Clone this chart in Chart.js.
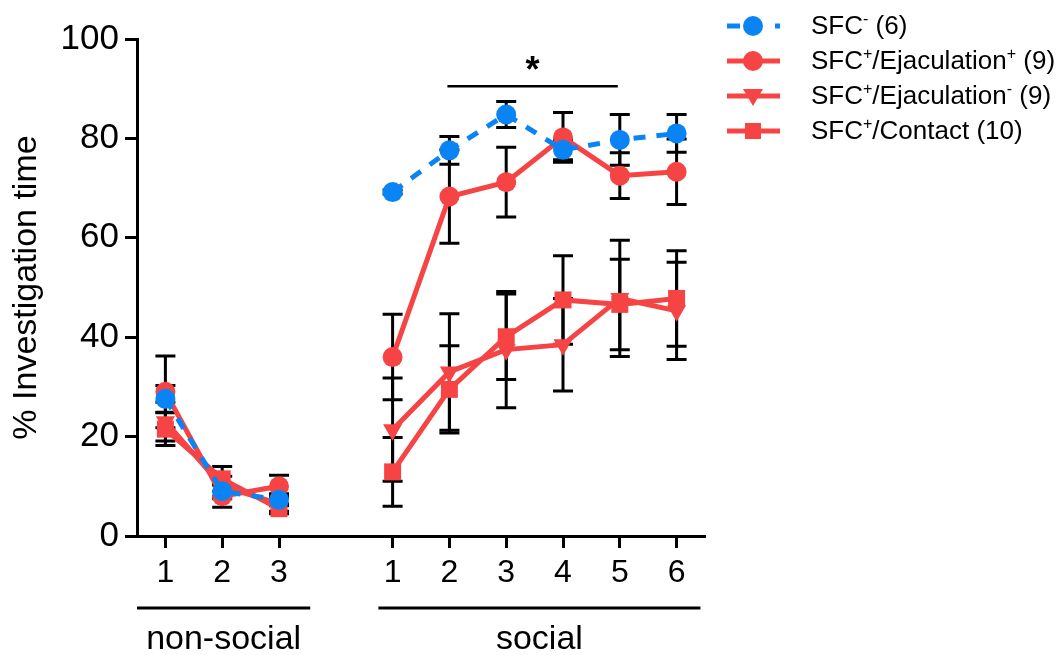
<!DOCTYPE html>
<html>
<head>
<meta charset="utf-8">
<script src="https://cdn.jsdelivr.net/npm/chart.js@4.4.1/dist/chart.umd.min.js"></script>
<style>
  html, body { margin: 0; padding: 0; background: #fff; }
  #wrap { position: relative; width: 1062px; height: 655px; font-family: "Liberation Sans", Arial, sans-serif; }
  #legend { position: absolute; left: 727px; top: 8px; }
  .row { height: 35px; display: flex; align-items: center; font-size: 26px; color: #000; white-space: nowrap; }
  .row svg { width: 54px; height: 30px; margin-right: 30px; flex: none; }
  sup { font-size: 16px; vertical-align: 10px; line-height: 0; }
</style>
</head>
<body>
<div id="wrap">
  <canvas id="chart" width="1062" height="655"></canvas>
  <div id="legend"></div>
</div>
<script>
// x positions of the sessions (gap at 3 splits the two blocks)
const xPositions = [0, 1, 2, 4, 5, 6, 7, 8, 9];
const tickLabels = ["1", "2", "3", "1", "2", "3", "4", "5", "6"];

// means and SEM
const sfcNegMean = [27.6, 9.0, 7.3, 69.2, 77.6, 84.8, 77.7, 79.7, 81.0];
const sfcNegSem = [2.7, 1.5, 1.2, 0.4, 2.8, 2.6, 2.0, 5.1, 3.8];

const ejacPosMean = [29.0, 8.0, 10.0, 36.0, 68.3, 71.2, 80.2, 72.5, 73.3];
const ejacPosSem = [7.2, 2.2, 2.2, 8.6, 9.4, 7.0, 5.0, 4.6, 6.6];

const ejacNegMean = [23.0, 10.0, 6.5, 21.4, 33.0, 37.5, 38.5, 47.8, 45.3];
const ejacNegSem = [3.9, 2.0, 1.5, 10.4, 11.7, 11.7, 9.3, 11.7, 9.8];

const contactMean = [21.5, 11.5, 5.5, 12.9, 29.5, 40.1, 47.5, 46.6, 47.8];
const contactSem = [3.3, 2.5, 1.0, 6.9, 8.8, 8.6, 8.9, 9.1, 9.6];

const groups = [
  { label: "non-social", from: -0.5, to: 2.55 },
  { label: "social", from: 3.75, to: 9.42 },
];
const sigBar = { from: 5, to: 8, y: 90.5, text: "*" };

const BLUE = "#0A84F5";
const RED = "#F64444";

function toPoints(mean) {
  const pts = xPositions.map((x, i) => ({ x: x, y: mean[i] }));
  pts.splice(3, 0, { x: 3, y: null }); // break the line between blocks
  return pts;
}
function toErrors(sem) {
  const e = sem.slice();
  e.splice(3, 0, null);
  return e;
}

const errorBars = {
  id: "errorBars",
  beforeDatasetsDraw(chart) {
    const ctx = chart.ctx;
    const y = chart.scales.y;
    ctx.save();
    ctx.strokeStyle = "#000";
    ctx.lineWidth = 3;
    chart.data.datasets.forEach((ds, di) => {
      const meta = chart.getDatasetMeta(di);
      meta.data.forEach((pt, i) => {
        const v = ds.data[i].y;
        const e = ds.errors[i];
        if (v == null || e == null) return;
        const px = pt.x;
        const top = y.getPixelForValue(v + e);
        const bot = y.getPixelForValue(v - e);
        ctx.beginPath();
        ctx.moveTo(px, top);
        ctx.lineTo(px, bot);
        ctx.moveTo(px - 10, top);
        ctx.lineTo(px + 10, top);
        ctx.moveTo(px - 10, bot);
        ctx.lineTo(px + 10, bot);
        ctx.stroke();
      });
    });
    ctx.restore();
  },
};

const extras = {
  id: "extras",
  afterDraw(chart) {
    const ctx = chart.ctx;
    const x = chart.scales.x;
    const y = chart.scales.y;
    ctx.save();
    ctx.strokeStyle = "#000";
    ctx.fillStyle = "#000";
    ctx.lineWidth = 3;
    ctx.font = '34px "Liberation Sans", Arial, sans-serif';
    ctx.textAlign = "center";
    ctx.textBaseline = "alphabetic";
    groups.forEach((g) => {
      const x0 = x.getPixelForValue(g.from);
      const x1 = x.getPixelForValue(g.to);
      ctx.beginPath();
      ctx.moveTo(x0, 608);
      ctx.lineTo(x1, 608);
      ctx.stroke();
      ctx.fillText(g.label, (x0 + x1) / 2, 649);
    });
    const sx0 = x.getPixelForValue(sigBar.from) - 2;
    const sx1 = x.getPixelForValue(sigBar.to) - 2;
    const sy = y.getPixelForValue(sigBar.y);
    ctx.lineWidth = 2.5;
    ctx.beginPath();
    ctx.moveTo(sx0, sy);
    ctx.lineTo(sx1, sy);
    ctx.stroke();
    ctx.font = 'bold 36px "Liberation Sans", Arial, sans-serif';
    ctx.fillText(sigBar.text, (sx0 + sx1) / 2, sy - 4);
    ctx.restore();
  },
};

const lineBase = {
  borderWidth: 5,
  pointBorderWidth: 0,
  spanGaps: false,
  tension: 0,
};

new Chart(document.getElementById("chart"), {
  type: "line",
  data: {
    datasets: [
      {
        ...lineBase,
        label: "SFC- (6)",
        data: toPoints(sfcNegMean),
        errors: toErrors(sfcNegSem),
        borderColor: BLUE,
        backgroundColor: BLUE,
        borderDash: [12, 11],
        pointStyle: "circle",
        pointRadius: 10,
      },
      {
        ...lineBase,
        label: "SFC+/Ejaculation+ (9)",
        data: toPoints(ejacPosMean),
        errors: toErrors(ejacPosSem),
        borderColor: RED,
        backgroundColor: RED,
        pointStyle: "circle",
        pointRadius: 10,
      },
      {
        ...lineBase,
        label: "SFC+/Ejaculation- (9)",
        data: toPoints(ejacNegMean),
        errors: toErrors(ejacNegSem),
        borderColor: RED,
        backgroundColor: RED,
        pointStyle: "triangle",
        pointRotation: 180,
        pointRadius: 11,
      },
      {
        ...lineBase,
        label: "SFC+/Contact (10)",
        data: toPoints(contactMean),
        errors: toErrors(contactSem),
        borderColor: RED,
        backgroundColor: RED,
        pointStyle: "rect",
        pointRadius: 12,
      },
    ],
  },
  options: {
    responsive: false,
    animation: false,
    layout: { padding: { left: 0, top: 39, right: 357, bottom: 0 } },
    plugins: { legend: { display: false }, tooltip: { enabled: false } },
    scales: {
      x: {
        type: "linear",
        min: -0.5,
        max: 9.5,
        afterBuildTicks: (axis) => {
          axis.ticks = xPositions.map((v) => ({ value: v }));
        },
        afterFit: (scale) => {
          scale.height = 119;
        },
        ticks: {
          callback: (value) => tickLabels[xPositions.indexOf(value)],
          font: { family: "Liberation Sans", size: 32 },
          color: "#000",
          padding: 6,
          autoSkip: false,
          maxRotation: 0,
        },
        grid: { drawOnChartArea: false, drawTicks: true, tickLength: 12, tickWidth: 3, tickColor: "#000" },
        border: { display: true, color: "#000", width: 3 },
      },
      y: {
        min: 0,
        max: 100,
        afterFit: (scale) => {
          scale.width = 137;
        },
        ticks: {
          stepSize: 20,
          font: { family: "Liberation Sans", size: 35 },
          color: "#000",
          padding: 6,
        },
        grid: { drawOnChartArea: false, drawTicks: true, tickLength: 12, tickWidth: 3, tickColor: "#000" },
        border: { display: true, color: "#000", width: 3 },
        title: {
          display: true,
          text: "% Investigation time",
          font: { family: "Liberation Sans", size: 34 },
          color: "#000",
          padding: { top: 6, bottom: 0 },
        },
      },
    },
  },
  plugins: [errorBars, extras],
});

// legend with superscripts, kept as real text
const legendItems = [
  { html: "SFC<sup>-</sup> (6)", color: BLUE, dash: true, marker: "circle" },
  { html: "SFC<sup>+</sup>/Ejaculation<sup>+</sup> (9)", color: RED, dash: false, marker: "circle" },
  { html: "SFC<sup>+</sup>/Ejaculation<sup>-</sup> (9)", color: RED, dash: false, marker: "triangle" },
  { html: "SFC<sup>+</sup>/Contact (10)", color: RED, dash: false, marker: "rect" },
];
function markerSvg(item) {
  const c = item.color;
  const line = item.dash
    ? `<line x1="0" y1="15" x2="13" y2="15" stroke="${c}" stroke-width="5"/><line x1="48" y1="15" x2="53" y2="15" stroke="${c}" stroke-width="5"/>`
    : `<line x1="0" y1="15" x2="53" y2="15" stroke="${c}" stroke-width="5"/>`;
  let m = "";
  if (item.marker === "circle") m = `<circle cx="26" cy="15" r="10" fill="${c}"/>`;
  if (item.marker === "triangle") m = `<polygon points="16,8 36,8 26,25" fill="${c}"/>`;
  if (item.marker === "rect") m = `<rect x="18" y="7" width="16" height="16" fill="${c}"/>`;
  return `<svg viewBox="0 0 54 30">${line}${m}</svg>`;
}
document.getElementById("legend").innerHTML = legendItems
  .map((it) => `<div class="row">${markerSvg(it)}<span>${it.html}</span></div>`)
  .join("");
</script>
</body>
</html>
